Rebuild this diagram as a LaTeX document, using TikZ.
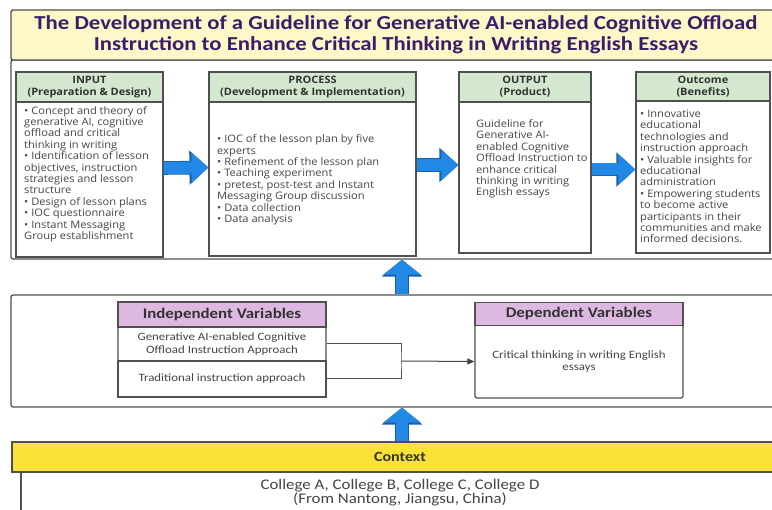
\documentclass[tikz,border=0pt]{standalone}
\usepackage{fontspec}
\setmainfont{Carlito}[FakeStretch=1.15]
\newfontfamily\segoe{Open Sans}[FakeStretch=1.08]
\usetikzlibrary{arrows.meta}
\definecolor{framegray}{HTML}{505050}
\definecolor{titlefill}{HTML}{FFF7C8}
\definecolor{titleink}{HTML}{3B1D6B}
\definecolor{headgreen}{HTML}{D3E8CF}
\definecolor{headlilac}{HTML}{DDB9E2}
\definecolor{ctxyellow}{HTML}{FAE236}
\definecolor{arrowblue}{HTML}{2288E6}
\definecolor{arrowedge}{HTML}{1A5FA8}
\definecolor{bodyink}{HTML}{454545}
\begin{document}
\begin{tikzpicture}[x=1pt,y=-1pt]
  \tikzset{ frame/.style={draw=framegray,line width=1.3pt,rounded corners=2pt,inner sep=0pt},
    box/.style={draw=framegray,line width=1.2pt,fill=white,inner sep=0pt},
    greenhead/.style={box,fill=headgreen,align=center,text=black!80,
      font=\segoe\bfseries\fontsize{10.2}{12}\selectfont},
    lilachead/.style={box,fill=headlilac,text=black!80,font=\bfseries\fontsize{14.7}{16}\selectfont},
    bodytext/.style={inner sep=0pt,align=left,text=bodyink,font=\segoe\fontsize{10.3}{11.4}\selectfont},
    vartext/.style={inner sep=0pt,align=center,text=bodyink,font=\fontsize{11.2}{12.2}\selectfont},
    rightarrow/.style={arrowblue,line width=12pt,-{Triangle[width=30pt,length=17pt]},
      preaction={draw=arrowedge,line width=13.6pt,-{Triangle[width=33pt,length=19pt]}}},
    uparrow/.style={arrowblue,line width=12pt,-{Triangle[width=37pt,length=15pt]},
      preaction={draw=arrowedge,line width=13.6pt,-{Triangle[width=40pt,length=17pt]}}},
  }
  \clip (0,0) rectangle (772,510);
  % the big frames
  \node[frame, minimum width=770pt, minimum height=199pt] (topframe) at (396,159.5) {};
  \node[frame, fill=titlefill, minimum width=770pt, minimum height=50pt, align=center,
    text=titleink, font=\bfseries\fontsize{19.8}{21}\selectfont] (title) at (396,35)
    {The Development of a Guideline for Generative AI-enabled Cognitive Offload\\
     Instruction to Enhance Critical Thinking in Writing English Essays};
  \node[frame, minimum width=770pt, minimum height=112pt] (midframe) at (396,351) {};

  % the four stages
  \node[box, minimum width=147pt, minimum height=185pt] (input) at (89.5,164.5) {};
  \node[greenhead, minimum width=147pt, minimum height=30pt, anchor=north] (inputhead) at (input.north)
    {INPUT\\(Preparation \& Design)};
  \node[box, minimum width=207pt, minimum height=184pt] (process) at (312.5,164) {};
  \node[greenhead, minimum width=207pt, minimum height=30pt, anchor=north] (processhead) at (process.north)
    {PROCESS\\(Development \& Implementation)};
  \node[box, minimum width=132pt, minimum height=181pt] (output) at (525,162.5) {};
  \node[greenhead, minimum width=132pt, minimum height=30pt, anchor=north] (outputhead) at (output.north)
    {OUTPUT\\(Product)};
  \node[box, minimum width=134pt, minimum height=181pt] (outcome) at (703,162.5) {};
  \node[greenhead, minimum width=134pt, minimum height=29pt, anchor=north] (outcomehead) at (outcome.north)
    {Outcome\\(Benefits)};

  % what is in them
  \node[bodytext, anchor=west] (inputtext) at (24,174)
    {• Concept and theory of\\generative AI, cognitive\\offload and critical\\thinking in writing\\
     • Identification of lesson\\objectives, instruction\\strategies and lesson\\structure\\
     • Design of lesson plans\\• IOC questionnaire\\• Instant Messaging\\Group establishment};
  \node[bodytext, anchor=west] (processtext) at (217,180)
    {• IOC of the lesson plan by five\\experts\\• Refinement of the lesson plan\\
     • Teaching experiment\\• pretest, post-test and Instant\\Messaging Group discussion\\
     • Data collection\\• Data analysis};
  \node[bodytext, anchor=west] (outputtext) at (476,159)
    {Guideline for\\Generative AI-\\enabled Cognitive\\Offload Instruction to\\
     enhance critical\\thinking in writing\\English essays};
  \node[bodytext, anchor=west] (outcometext) at (640,176.5)
    {• Innovative\\educational\\technologies and\\instruction approach\\
     • Valuable insights for\\educational\\administration\\• Empowering students\\
     to become active\\participants in their\\communities and make\\informed decisions.};

  % the blue arrows between the stages
  \draw[rightarrow] ([yshift=-3.5pt]input.east) -- ([yshift=-3.5pt]process.west);
  \draw[rightarrow] ([yshift=-1pt]process.east) -- ([yshift=-2.5pt]output.west);
  \draw[rightarrow] ([yshift=-7pt]output.east) -- ([yshift=-7pt]outcome.west);

  % the variables
  \node[box, rounded corners=1pt, minimum width=208pt, minimum height=34pt] (iva) at (222,344)
    [vartext] {Generative AI-enabled Cognitive\\Offload Instruction Approach};
  \node[box, minimum width=208pt, minimum height=36pt] (ivb) at (222,379)
    [vartext] {Traditional instruction approach};
  \node[lilachead, minimum width=208pt, minimum height=25pt] (ivhead) at (222,314.5) {Independent Variables};
  \node[box, rounded corners=2pt, minimum width=208pt, minimum height=73pt] (dv) at (579,361.5)
    [vartext] {Critical thinking in writing English\\essays};
  \node[lilachead, minimum width=208pt, minimum height=23pt] (dvhead) at (579,314) {Dependent Variables};
  \coordinate (join) at (401,361);
  \draw[framegray, line width=1pt] (iva.east) -| (join) |- (ivb.east);
  \draw[framegray!80!black, line width=1pt, -{Triangle[length=7pt,width=6pt]}] (join) -- (dv.west);

  % the context
  \node[box, fill=ctxyellow, minimum width=776pt, minimum height=30pt,
    font=\bfseries\fontsize{14}{15}\selectfont, text=black!80] (context) at (400,457) {Context};
  \node[box, minimum width=758pt, minimum height=58pt] (ctxbody) at (400,501) {};
  \node[vartext, font=\fontsize{14.7}{14}\selectfont] (colleges) at (400,493)
    {College A, College B, College C, College D\\(From Nantong, Jiangsu, China)};

  % the arrows going up
  \coordinate (upx) at (402,0);
  \draw[uparrow] (midframe.north -| upx) -- (topframe.south -| upx);
  \draw[uparrow] (context.north -| upx) -- (midframe.south -| upx);
\end{tikzpicture}
\end{document}
